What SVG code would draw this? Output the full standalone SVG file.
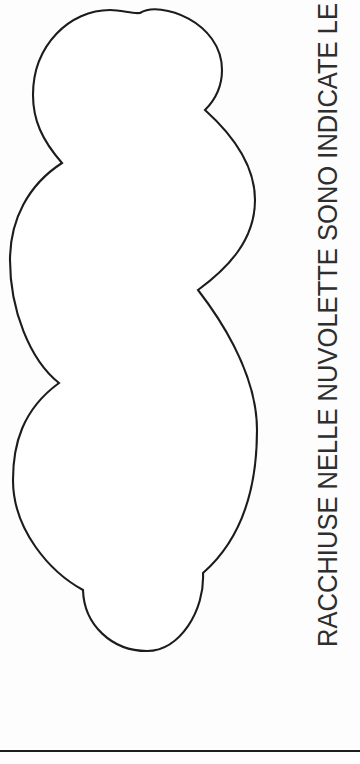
<svg xmlns="http://www.w3.org/2000/svg" width="360" height="764" viewBox="0 0 360 764">
<style>
.outline{fill:#ffffff;stroke:#1c1c1c;stroke-width:2.1;stroke-linejoin:miter}
.caption{font-family:"Liberation Sans",Arial,sans-serif;font-size:28px;fill:#2e2e2e}
.rule{stroke:#1c1c1c;stroke-width:2.2}
</style>
<rect width="360" height="764" fill="#fdfdfd"/>
<g id="cloud">
<path class="outline" d="M140,13 C160,0 222,22 222,70 C222,88 215,100 205,110 C225,128 255,160 255,200 C255,240 228,268 198,290 C215,312 257,370 257,430 C257,500 235,545 203,573 C205,610 180,651 147,651 C112,651 84,625 83,590 C50,572 13,530 13,480 C13,445 22,410 59,383 C30,360 10,310 10,260 C10,220 28,185 62,163 C42,140 33,120 33,95 C33,45 70,10 110,10 C122,10 132,14 140,13 Z"/>
</g>
<g id="caption">
<text class="caption" transform="translate(337,647) rotate(-90)" textLength="644" lengthAdjust="spacingAndGlyphs">RACCHIUSE NELLE NUVOLETTE SONO INDICATE LE</text>
</g>
<g id="rule">
<line class="rule" x1="0" y1="751" x2="360" y2="751"/>
</g>
</svg>
